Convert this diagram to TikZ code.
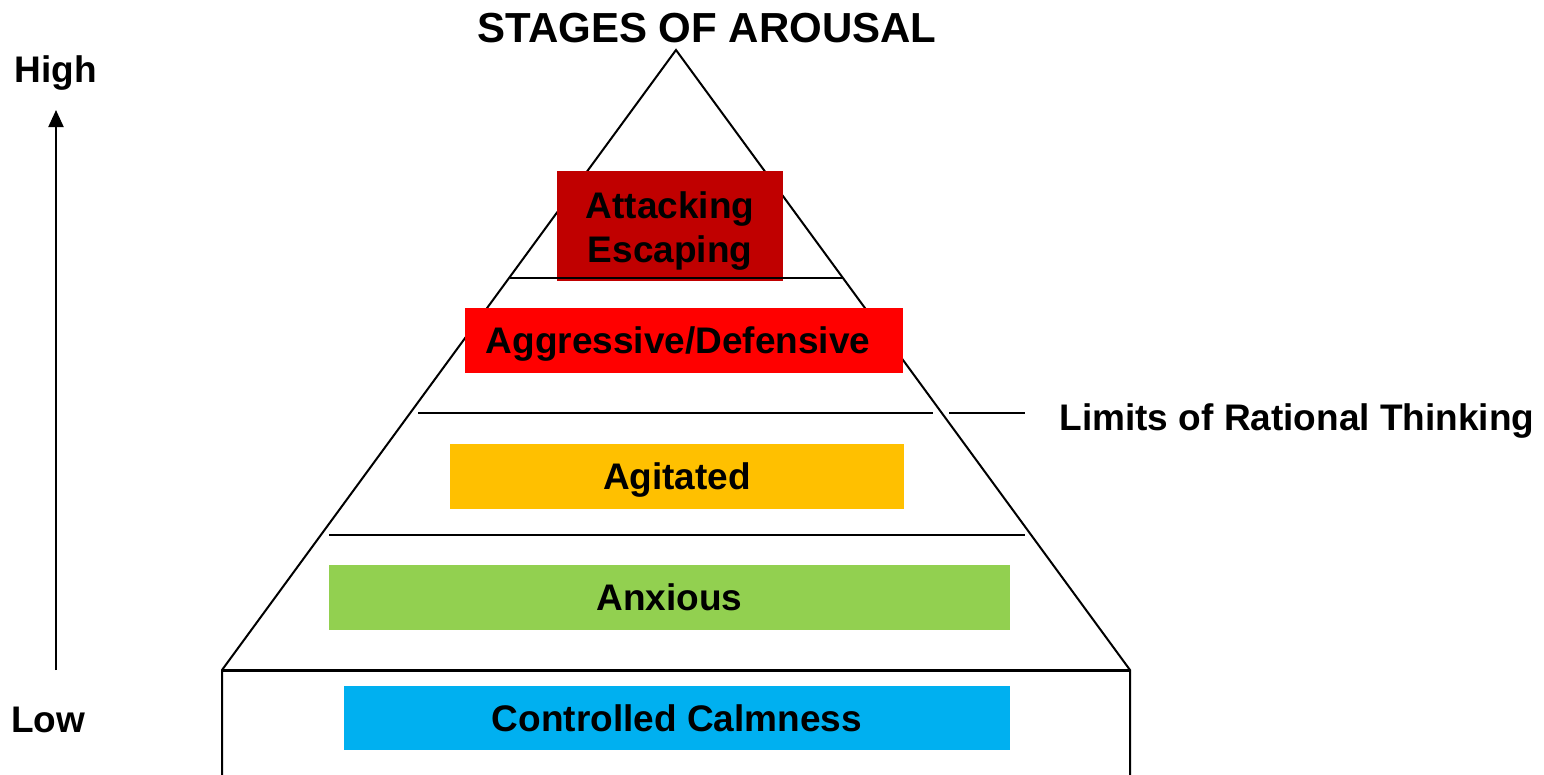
\documentclass[tikz,border=0pt]{standalone}
\usepackage{fontspec}
\setmainfont{Liberation Sans}
\usetikzlibrary{arrows.meta}
\definecolor{cdarkred}{HTML}{C00000}
\definecolor{cred}{HTML}{FF0000}
\definecolor{corange}{HTML}{FFC000}
\definecolor{cgreen}{HTML}{92D050}
\definecolor{ccyan}{HTML}{00B0F0}
\begin{document}
\begin{tikzpicture}[x=1pt,y=-1pt,
  edge/.style={line width=2pt,black},
  stagebox/.style={rectangle,inner sep=0pt,draw=none,font=\fontsize{37}{44}\selectfont\bfseries,text height=26.5pt,text depth=0pt},
  lab/.style={inner sep=0pt,font=\fontsize{37}{44}\selectfont\bfseries,anchor=base},
  ttl/.style={inner sep=0pt,font=\fontsize{42}{50}\selectfont\bfseries,anchor=base}]
\useasboundingbox (0,0) rectangle (1544,774);
% pyramid
\coordinate (apex) at (676,50);
\coordinate (bl) at (222,670);
\coordinate (br) at (1130,670);
\coordinate (bbl) at (222,776);
\coordinate (bbr) at (1130,776);
\draw[edge] (bbl) -- (bl) -- (apex) -- (br) -- (bbr);
\draw[edge,line width=3pt] (bl) -- (br);
% stage boxes
\node[stagebox,fill=cdarkred,minimum width=226pt,minimum height=110pt] (att) at (670,226) {};
\node[lab] (attA) at (670,218) {Attacking};
\node[lab] (attE) at (670,262) {Escaping};
\node[stagebox,fill=cred,minimum width=438pt,minimum height=65pt] (agg) at (684,340.5) {\hspace*{-12pt}Aggressive/Defensive};
\node[stagebox,fill=corange,minimum width=454pt,minimum height=65pt] (agi) at (677,476.5) {Agitated};
\node[stagebox,fill=cgreen,minimum width=681pt,minimum height=65pt] (anx) at (669.5,597.5) {Anxious};
\node[stagebox,fill=ccyan,minimum width=666pt,minimum height=64pt] (cal) at (677,718) {Controlled Calmness};
% divider lines
\coordinate (d1a) at (510,278); \coordinate (d1b) at (843,278);
\coordinate (d2a) at (418,413); \coordinate (d2b) at (933,413);
\coordinate (d3a) at (949,413); \coordinate (d3b) at (1025,413);
\coordinate (d4a) at (329,535); \coordinate (d4b) at (1025,535);
\draw[edge] (d1a) -- (d1b);
\draw[edge] (d2a) -- (d2b);
\draw[edge] (d3a) -- (d3b);
\draw[edge] (d4a) -- (d4b);
% labels
\node[ttl] (title) at (707,42) {STAGES OF AROUSAL};
\node[lab] (limits) at (1297,430) {Limits of Rational Thinking};
\node[lab] (high) at (56,82) {High};
\node[lab] (low) at (48,732) {Low};
% arrow
\coordinate (lowpt) at (56,670);
\coordinate (highpt) at (56,110);
\draw[edge,-{Triangle[width=15pt,length=17pt]}] (lowpt) -- (highpt);
\end{tikzpicture}
\end{document}
